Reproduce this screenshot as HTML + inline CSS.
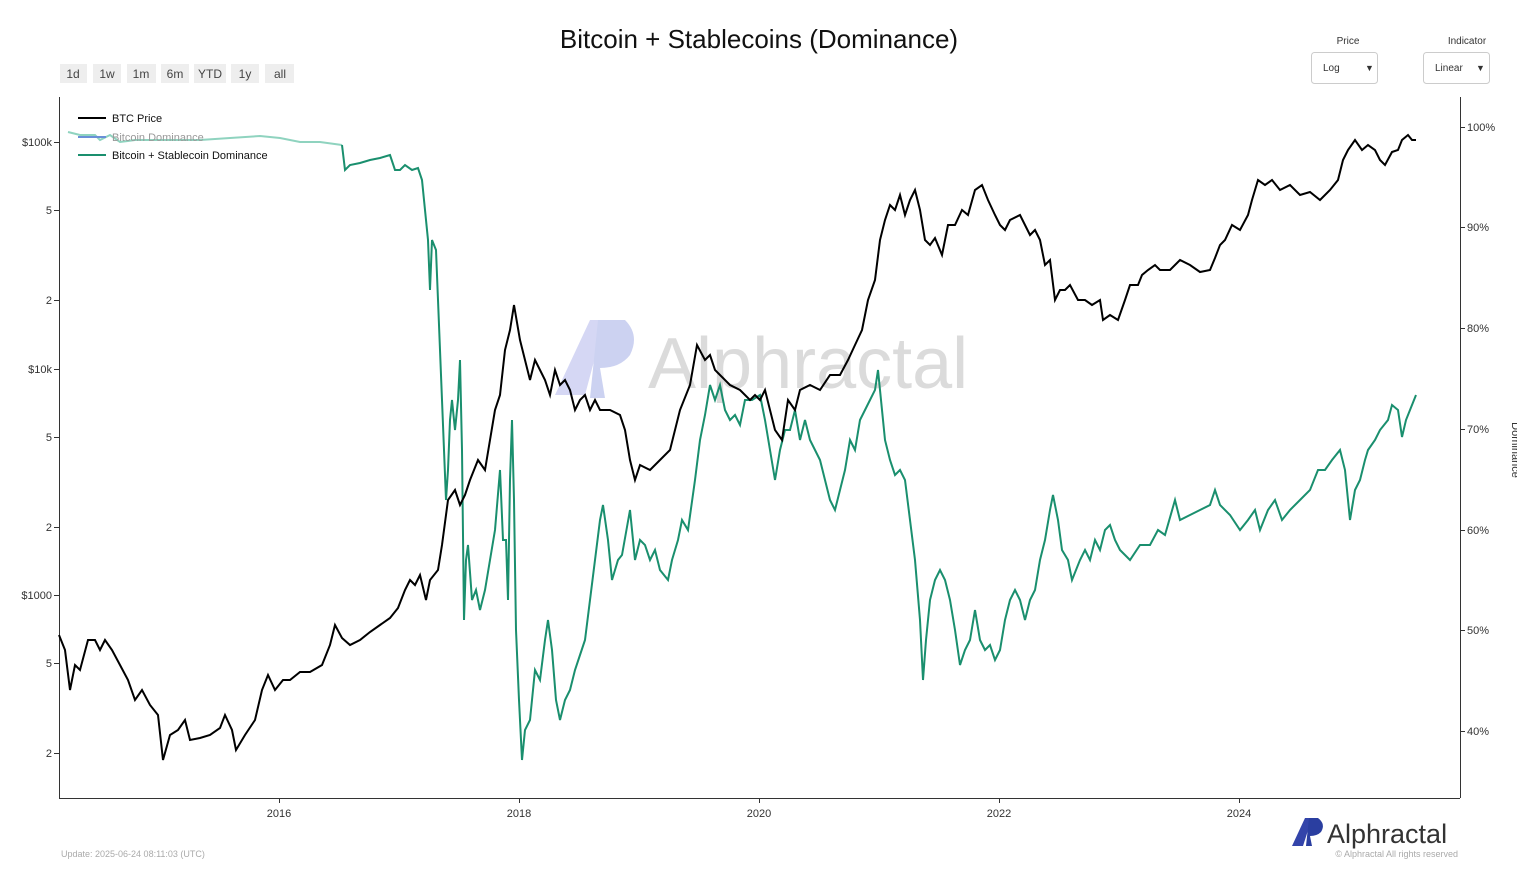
<!DOCTYPE html>
<html><head><meta charset="utf-8"><style>
body{margin:0;background:#fff;font-family:"Liberation Sans",sans-serif;}
svg text{font-family:"Liberation Sans",sans-serif;}
</style></head><body>
<svg width="1517" height="872" viewBox="0 0 1517 872" xmlns="http://www.w3.org/2000/svg">
<rect width="1517" height="872" fill="#fff"/>
<text x="759" y="48" font-size="26" text-anchor="middle" fill="#111">Bitcoin + Stablecoins (Dominance)</text>
<g font-size="12" fill="#444" text-anchor="middle">
<rect x="60" y="64" width="27" height="19" fill="#eee"/><text x="73" y="78">1d</text>
<rect x="93" y="64" width="28" height="19" fill="#eee"/><text x="107" y="78">1w</text>
<rect x="127" y="64" width="29" height="19" fill="#eee"/><text x="141" y="78">1m</text>
<rect x="161" y="64" width="28" height="19" fill="#eee"/><text x="175" y="78">6m</text>
<rect x="194" y="64" width="32" height="19" fill="#eee"/><text x="210" y="78">YTD</text>
<rect x="231" y="64" width="28" height="19" fill="#eee"/><text x="245" y="78">1y</text>
<rect x="265" y="64" width="29" height="19" fill="#eee"/><text x="280" y="78">all</text>
</g>
<g font-size="10" fill="#333">
<text x="1348" y="44" text-anchor="middle">Price</text>
<text x="1467" y="44" text-anchor="middle">Indicator</text>
<rect x="1311.5" y="52.5" width="66" height="31" rx="3" fill="#fff" stroke="#ccc"/>
<text x="1323" y="71">Log</text><text x="1365" y="71" font-size="9">▼</text>
<rect x="1423.5" y="52.5" width="66" height="31" rx="3" fill="#fff" stroke="#ccc"/>
<text x="1435" y="71">Linear</text><text x="1476" y="71" font-size="9">▼</text>
</g>
<!-- watermark -->
<g opacity="0.35">
<path d="M555 395 L590 320 L605 320 L585 395 Z" fill="#8890e0"/>
<path d="M598 320 L625 320 Q640 335 630 355 Q620 368 600 368 L605 398 L590 398 Z" fill="#7080d8"/>
<text x="648" y="388" font-size="72" fill="#999">Alphractal</text>
</g>
<!-- axes -->
<g stroke="#333" stroke-width="1" fill="none">
<line x1="59.5" y1="97" x2="59.5" y2="798"/>
<line x1="59" y1="798.5" x2="1460" y2="798.5"/>
<line x1="1460.5" y1="97" x2="1460.5" y2="798"/>
<line x1="54" y1="142.5" x2="59" y2="142.5"/><line x1="54" y1="210.5" x2="59" y2="210.5"/><line x1="54" y1="300.5" x2="59" y2="300.5"/>
<line x1="54" y1="369.5" x2="59" y2="369.5"/><line x1="54" y1="437.5" x2="59" y2="437.5"/><line x1="54" y1="527.5" x2="59" y2="527.5"/>
<line x1="54" y1="595.5" x2="59" y2="595.5"/><line x1="54" y1="663.5" x2="59" y2="663.5"/><line x1="54" y1="753.5" x2="59" y2="753.5"/>
<line x1="279.5" y1="798" x2="279.5" y2="803"/><line x1="519.5" y1="798" x2="519.5" y2="803"/><line x1="759.5" y1="798" x2="759.5" y2="803"/><line x1="999.5" y1="798" x2="999.5" y2="803"/><line x1="1239.5" y1="798" x2="1239.5" y2="803"/>
<line x1="1460" y1="127.5" x2="1465" y2="127.5"/><line x1="1460" y1="227.5" x2="1465" y2="227.5"/><line x1="1460" y1="328.5" x2="1465" y2="328.5"/><line x1="1460" y1="429.5" x2="1465" y2="429.5"/><line x1="1460" y1="530.5" x2="1465" y2="530.5"/><line x1="1460" y1="630.5" x2="1465" y2="630.5"/><line x1="1460" y1="731.5" x2="1465" y2="731.5"/>
</g>
<g font-size="11" fill="#333" text-anchor="end">
<text x="52" y="146">$100k</text><text x="52" y="214">5</text><text x="52" y="304">2</text>
<text x="52" y="373">$10k</text><text x="52" y="441">5</text><text x="52" y="531">2</text>
<text x="52" y="599">$1000</text><text x="52" y="667">5</text><text x="52" y="757">2</text>
</g>
<g font-size="11" fill="#333" text-anchor="middle">
<text x="279" y="817">2016</text><text x="519" y="817">2018</text><text x="759" y="817">2020</text><text x="999" y="817">2022</text><text x="1239" y="817">2024</text>
</g>
<g font-size="11" fill="#333">
<text x="1467" y="131">100%</text><text x="1467" y="231">90%</text><text x="1467" y="332">80%</text><text x="1467" y="433">70%</text><text x="1467" y="534">60%</text><text x="1467" y="634">50%</text><text x="1467" y="735">40%</text>
<text x="1512" y="450" transform="rotate(90 1512 450)" text-anchor="middle">Dominance</text>
</g>
<polyline fill="none" stroke="#8fd3bf" stroke-width="2" points="68,132 80,135 95,135 100,140 110,135 120,142 135,140 150,140 170,140 200,140 230,138 260,136 280,138 300,142 320,142 342,145"/>
<polyline fill="none" stroke="#1a8f6e" stroke-width="2" points="342,145 345,170 350,165 360,163 370,160 380,158 390,155 395,170 400,170 405,165 412,170 418,168 422,180 425,210 428,240 430,290 432,240 436,250 438,300 440,350 442,400 444,450 446,500 448,470 450,420 452,400 455,430 458,400 460,360 462,450 464,620 466,560 468,545 472,600 476,590 480,610 485,590 490,560 495,530 500,470 503,540 506,540 508,600 510,480 512,420 514,500 516,630 519,700 522,760 525,730 530,720 535,670 540,680 545,640 548,620 552,650 556,700 560,720 565,700 570,690 575,670 580,655 585,640 590,600 595,560 600,520 603,505 608,540 612,580 618,560 622,555 630,510 635,560 640,540 645,545 650,560 655,550 660,570 668,580 672,560 678,540 682,520 688,530 695,480 700,440 705,415 710,385 715,400 720,385 725,410 730,420 735,415 740,425 745,400 752,400 760,395 765,420 770,450 775,480 780,450 785,430 790,430 795,410 800,440 805,420 810,440 815,450 820,460 825,480 830,500 835,510 840,490 845,470 850,440 855,450 860,420 865,410 870,400 875,390 878,370 882,410 885,440 890,460 895,475 900,470 905,480 910,520 915,560 920,620 923,680 926,640 930,600 935,580 940,570 945,580 950,600 955,630 960,665 965,650 970,640 975,610 980,640 985,650 990,645 995,660 1000,650 1005,620 1010,600 1015,590 1020,600 1025,620 1030,600 1035,590 1040,560 1045,540 1050,510 1053,495 1058,520 1062,550 1068,560 1072,580 1080,560 1085,550 1090,560 1095,540 1100,550 1105,530 1110,525 1115,540 1120,550 1130,560 1140,545 1150,545 1158,530 1165,535 1175,500 1180,520 1190,515 1200,510 1210,505 1215,490 1220,505 1230,515 1240,530 1248,520 1255,510 1260,530 1268,510 1275,500 1282,520 1290,510 1300,500 1310,490 1318,470 1325,470 1332,460 1340,450 1345,470 1350,520 1355,490 1360,480 1365,460 1368,450 1375,440 1380,430 1388,420 1392,405 1398,410 1402,437 1406,420 1410,410 1416,395"/>
<polyline fill="none" stroke="#000" stroke-width="2" points="59,635 65,650 70,690 75,665 80,670 88,640 95,640 100,650 105,640 112,650 120,665 128,680 135,700 142,690 150,705 158,715 163,760 170,735 178,730 185,720 190,740 200,738 210,735 220,728 225,715 232,730 236,750 245,735 255,720 262,690 268,675 275,690 283,680 290,680 300,672 310,672 322,665 330,645 335,625 342,638 350,645 360,640 370,632 380,625 390,618 398,608 405,590 410,580 415,585 420,575 426,600 430,580 438,570 442,545 448,500 455,490 460,505 465,495 470,480 478,460 485,470 490,440 495,410 500,395 505,350 510,330 514,305 520,340 525,360 530,380 535,360 540,370 545,380 550,395 555,370 560,385 565,380 570,390 575,410 580,400 585,395 590,410 595,400 600,410 610,410 620,415 625,430 630,460 635,480 640,465 650,470 660,460 670,450 680,410 690,385 697,345 705,360 710,355 715,370 720,375 730,385 740,390 750,400 755,395 760,400 765,390 770,410 775,430 782,440 788,400 795,410 800,390 810,385 820,390 830,375 840,375 848,360 855,345 862,330 868,300 875,280 880,240 885,220 890,205 895,210 900,195 905,215 910,200 915,190 920,210 925,240 930,245 935,238 942,255 948,225 955,225 962,210 968,215 975,190 982,185 988,200 995,215 1000,225 1005,230 1010,220 1020,215 1030,235 1035,230 1040,240 1045,265 1050,260 1055,300 1060,290 1065,290 1070,285 1078,300 1085,300 1092,305 1100,300 1103,320 1110,315 1118,320 1125,300 1130,285 1138,285 1142,275 1148,270 1155,265 1160,270 1170,270 1180,260 1190,265 1200,272 1210,270 1215,258 1220,245 1225,240 1232,225 1240,230 1248,215 1252,200 1258,180 1265,185 1272,180 1280,190 1290,185 1300,195 1310,192 1320,200 1330,190 1338,180 1343,160 1348,150 1355,140 1362,150 1368,145 1375,150 1380,160 1385,165 1392,152 1398,150 1402,140 1408,135 1412,140 1416,140"/>
<line x1="78" y1="118" x2="106" y2="118" stroke="#000" stroke-width="2"/>
<text x="112" y="122" font-size="11" fill="#111">BTC Price</text>
<line x1="78" y1="137" x2="106" y2="137" stroke="#6a8fd8" stroke-width="2"/>
<text x="112" y="141" font-size="11" fill="#999">Bitcoin Dominance</text>
<line x1="78" y1="155" x2="106" y2="155" stroke="#1a8f6e" stroke-width="2"/>
<text x="112" y="159" font-size="11" fill="#111">Bitcoin + Stablecoin Dominance</text>
<text x="61" y="857" font-size="9" fill="#aaa">Update: 2025-06-24 08:11:03 (UTC)</text>
<path d="M1292 846 L1305 818 L1312 818 L1303 846 Z" fill="#3344aa"/>
<path d="M1309 818 L1318 818 Q1326 824 1321 832 Q1317 836 1310 836 L1312 846 L1306 846 Z" fill="#2a3ea0"/>
<text x="1327" y="843" font-size="27" fill="#333">Alphractal</text>
<text x="1458" y="857" font-size="9" fill="#aaa" text-anchor="end">© Alphractal All rights reserved</text>
</svg>
</body></html>
